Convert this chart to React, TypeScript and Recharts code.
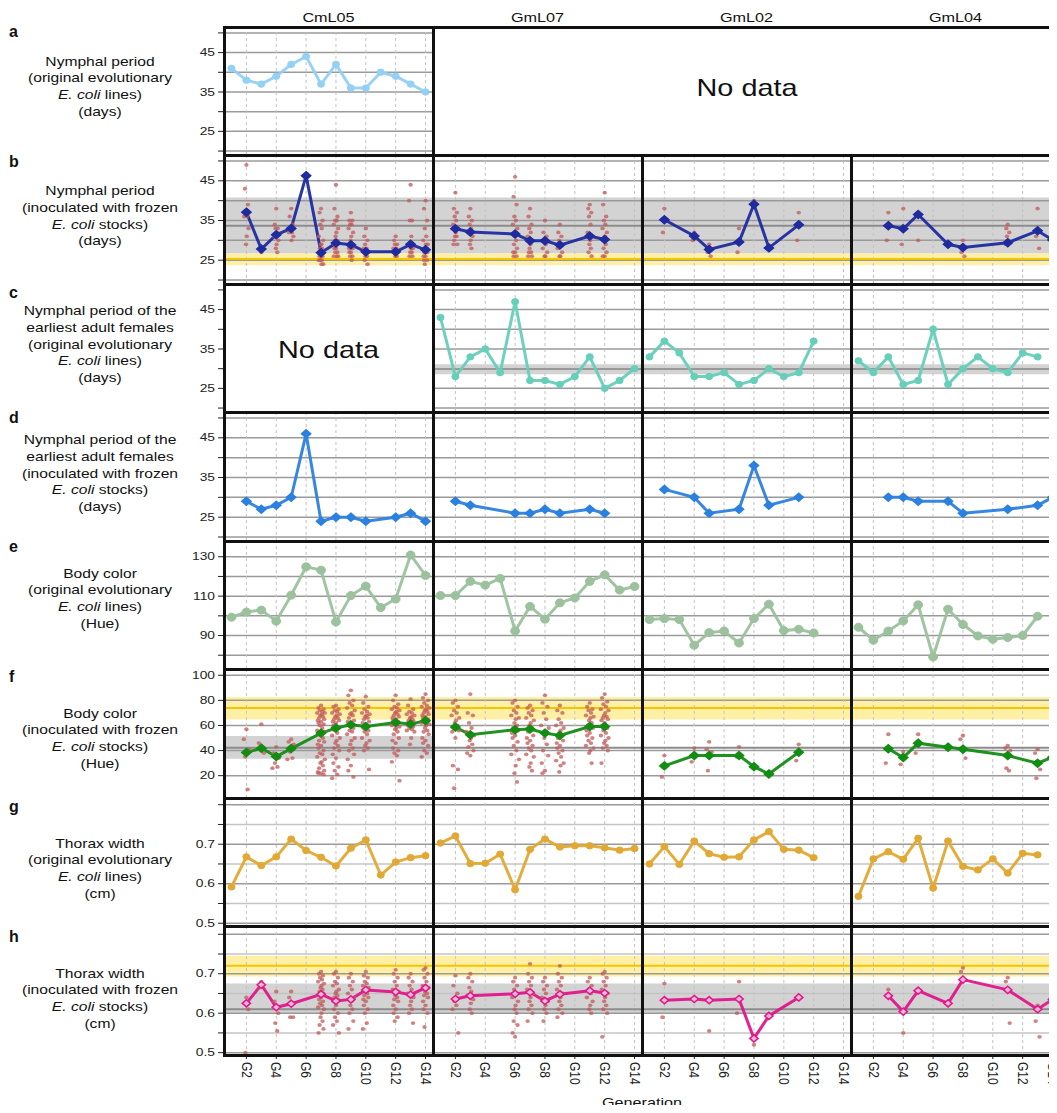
import React from 'react';
import { ComposedChart, Line, Scatter, XAxis, YAxis, ReferenceLine, ReferenceArea } from 'recharts';

const FONT = '"Liberation Sans", Arial, Helvetica, sans-serif';
const SX = 1.2;

// ---------- categories / labels ----------
const LINE_NAMES = ['CmL05', 'GmL07', 'GmL02', 'GmL04'];
const ROW_LETTERS = ['a', 'b', 'c', 'd', 'e', 'f', 'g', 'h'];
const GEN_TICKS = [2, 4, 6, 8, 10, 12, 14];
const ROW_TEXT = [
  ['Nymphal period', '(original evolutionary', '*E. coli* lines)', '(days)'],
  ['Nymphal period', '(inoculated with frozen', '*E. coli* stocks)', '(days)'],
  ['Nymphal period of the', 'earliest adult females', '(original evolutionary', '*E. coli* lines)', '(days)'],
  ['Nymphal period of the', 'earliest adult females', '(inoculated with frozen', '*E. coli* stocks)', '(days)'],
  ['Body color', '(original evolutionary', '*E. coli* lines)', '(Hue)'],
  ['Body color', '(inoculated with frozen', '*E. coli* stocks)', '(Hue)'],
  ['Thorax width', '(original evolutionary', '*E. coli* lines)', '(cm)'],
  ['Thorax width', '(inoculated with frozen', '*E. coli* stocks)', '(cm)'],
];

// ---------- a: nymphal period, original lines ----------
const nymphOrigCmL05: [number, number][] = [[1, 41], [2, 38], [3, 37], [4, 39], [5, 42], [6, 44], [7, 37], [8, 42], [9, 36], [10, 36], [11, 40], [12, 39], [13, 37], [14, 35]];

// ---------- b: nymphal period, frozen stocks (means) ----------
const nymphFrozenCmL05: [number, number][] = [[2, 37.1], [3, 27.8], [4, 31.4], [5, 33.0], [6, 46.3], [7, 26.9], [8, 29.3], [9, 28.9], [10, 27.1], [12, 27.1], [13, 29.0], [14, 27.6]];
const nymphFrozenGmL07: [number, number][] = [[2, 32.9], [3, 32.1], [6, 31.6], [7, 29.9], [8, 29.9], [9, 28.8], [11, 31.1], [12, 30.2]];
const nymphFrozenGmL02: [number, number][] = [[2, 35.2], [4, 31.1], [5, 27.7], [7, 29.6], [8, 39.1], [9, 28.1], [11, 33.9]];
const nymphFrozenGmL04: [number, number][] = [[3, 33.7], [4, 32.9], [5, 36.5], [7, 29.0], [8, 28.2], [11, 29.4], [13, 32.4], [14, 30.1]];
// individuals
const nymphFrozenCmL05Pts: [number, number[]][] = [
  [2, [49, 43, 39, 37, 36, 36, 33, 31, 29]],
  [3, [27, 28]],
  [4, [38, 34, 33, 33, 32, 31, 30, 29, 28, 27]],
  [5, [38, 36, 34, 33, 32, 32, 31, 30]],
  [6, [46]],
  [7, [38, 37, 35, 34, 33, 31, 30, 29, 29, 28, 28, 27, 27, 26, 26, 26, 25, 25, 25, 24, 24]],
  [8, [44, 38, 36, 35, 35, 34, 33, 32, 31, 30, 30, 29, 29, 28, 28, 27, 27, 26, 26, 26]],
  [9, [37, 35, 35, 34, 34, 33, 32, 31, 30, 29, 29, 28, 28, 27, 27, 26, 26, 25]],
  [10, [33, 31, 30, 29, 28, 28, 27, 27, 26, 26, 25, 24]],
  [12, [31, 30, 29, 29, 28, 28, 27, 27, 26, 26]],
  [13, [44, 40, 35, 35, 31, 29, 28, 28, 27, 27, 26, 26]],
  [14, [40, 38, 35, 33, 31, 30, 29, 29, 28, 28, 27, 27, 26, 26, 25, 25, 24]],
];
const nymphFrozenGmL07Pts: [number, number[]][] = [
  [2, [42, 38, 37, 36, 35, 34, 33, 32, 31, 31, 30, 29, 29]],
  [3, [38, 36, 35, 34, 33, 32, 31, 30, 29, 28]],
  [6, [46, 41, 39, 36, 35, 34, 33, 32, 31, 30, 29, 28, 27, 27, 26, 26]],
  [7, [38, 36, 34, 33, 32, 31, 30, 29, 28, 27, 27, 26, 26]],
  [8, [35, 32, 31, 30, 29, 28, 27, 26, 26]],
  [9, [34, 32, 31, 30, 29, 28, 27, 26, 26]],
  [11, [39, 38, 37, 36, 34, 32, 31, 30, 29, 28, 27, 26]],
  [12, [42, 39, 36, 35, 34, 33, 32, 31, 30, 29, 28, 27, 26, 26]],
];
const nymphFrozenGmL02Pts: [number, number[]][] = [
  [2, [38, 32]], [4, [32, 30]], [5, [29, 27, 26]], [7, [33, 27]], [8, [40]], [11, [37, 30]],
];
const nymphFrozenGmL04Pts: [number, number[]][] = [
  [3, [37, 30]], [4, [38, 29]], [5, [30]], [8, [30, 27, 26]], [11, [34, 33, 32, 31, 30, 29]], [13, [38, 31, 28]], [14, [35]],
];

// ---------- c: earliest females, original lines ----------
const earlyOrigGmL07: [number, number][] = [[1, 43], [2, 28], [3, 33], [4, 35], [5, 29], [6, 47], [7, 27], [8, 27], [9, 26], [10, 28], [11, 33], [12, 25], [13, 27], [14, 30]];
const earlyOrigGmL02: [number, number][] = [[1, 33], [2, 37], [3, 34], [4, 28], [5, 28], [6, 29], [7, 26], [8, 27], [9, 30], [10, 28], [11, 29], [12, 37]];
const earlyOrigGmL04: [number, number][] = [[1, 32], [2, 29], [3, 33], [4, 26], [5, 27], [6, 40], [7, 26], [8, 30], [9, 33], [10, 30], [11, 29], [12, 34], [13, 33]];

// ---------- d: earliest females, frozen stocks ----------
const earlyFrozenCmL05: [number, number][] = [[2, 29], [3, 27], [4, 28], [5, 30], [6, 46], [7, 24], [8, 25], [9, 25], [10, 24], [12, 25], [13, 26], [14, 24]];
const earlyFrozenGmL07: [number, number][] = [[2, 29], [3, 28], [6, 26], [7, 26], [8, 27], [9, 26], [11, 27], [12, 26]];
const earlyFrozenGmL02: [number, number][] = [[2, 32], [4, 30], [5, 26], [7, 27], [8, 38], [9, 28], [11, 30]];
const earlyFrozenGmL04: [number, number][] = [[3, 30], [4, 30], [5, 29], [7, 29], [8, 26], [11, 27], [13, 28], [14, 30]];

// ---------- e: body colour, original lines ----------
const hueOrigCmL05: [number, number][] = [[1, 99.3], [2, 101.9], [3, 102.9], [4, 97.3], [5, 110.5], [6, 124.9], [7, 123.2], [8, 96.9], [9, 110.3], [10, 115.1], [11, 104.2], [12, 108.5], [13, 130.9], [14, 120.5]];
const hueOrigGmL07: [number, number][] = [[1, 110.3], [2, 110.3], [3, 117.5], [4, 115.6], [5, 119], [6, 92.3], [7, 104.8], [8, 98.3], [9, 106.6], [10, 109.1], [11, 117.5], [12, 120.8], [13, 113.1], [14, 114.9]];
const hueOrigGmL02: [number, number][] = [[1, 98.1], [2, 98.6], [3, 98.1], [4, 85.1], [5, 91.5], [6, 92.3], [7, 86.2], [8, 98.6], [9, 105.9], [10, 92.5], [11, 93.2], [12, 91.3]];
const hueOrigGmL04: [number, number][] = [[1, 94.2], [2, 87.6], [3, 92.3], [4, 97.4], [5, 105.6], [6, 79.1], [7, 103.4], [8, 95.6], [9, 89.8], [10, 88.1], [11, 89], [12, 90], [13, 99.8]];

// ---------- f: body colour, frozen stocks ----------
const hueFrozenCmL05: [number, number][] = [[2, 38.4], [3, 41.9], [4, 35.2], [5, 41.6], [7, 53.9], [8, 57.9], [9, 60.6], [10, 59.2], [12, 62.4], [13, 61.1], [14, 63.8]];
const hueFrozenGmL07: [number, number][] = [[2, 58.7], [3, 52.6], [6, 56.6], [7, 57.1], [8, 53.9], [9, 52.0], [11, 59.2], [12, 59.2]];
const hueFrozenGmL02: [number, number][] = [[2, 27.8], [4, 36.0], [5, 36.0], [7, 36.0], [8, 27.2], [9, 21.4], [11, 38.7]];
const hueFrozenGmL04: [number, number][] = [[3, 41.4], [4, 34.4], [5, 45.9], [7, 42.7], [8, 41.1], [11, 36.0], [13, 29.9], [14, 34.7]];
const hueFrozenCmL05Pts: [number, number[]][] = [
  [2, [57, 49, 41, 35, 9]],
  [3, [61, 46, 38]],
  [4, [43, 38, 34, 30, 27, 26]],
  [5, [49, 47, 45, 39, 34, 33]],
  [7, [76, 74, 73, 72, 71, 70, 70, 69, 68, 67, 66, 65, 64, 63, 62, 61, 60, 58, 56, 55, 54, 52, 50, 48, 47, 45, 44, 42, 40, 38, 37, 35, 33, 31, 30, 28, 26, 24, 23, 22, 22, 21]],
  [8, [76, 75, 73, 72, 71, 70, 69, 68, 67, 66, 65, 64, 63, 62, 60, 58, 56, 54, 52, 50, 48, 46, 44, 42, 40, 37, 34, 30, 27, 24, 21, 18]],
  [9, [88, 84, 80, 78, 76, 74, 72, 70, 69, 68, 66, 64, 63, 62, 60, 58, 56, 55, 53, 50, 48, 45, 42, 40, 37, 33, 28, 24, 19]],
  [10, [83, 78, 75, 73, 71, 70, 69, 68, 67, 66, 65, 63, 62, 60, 58, 56, 55, 53, 50, 48, 46, 44, 42, 40, 25]],
  [12, [84, 80, 77, 75, 74, 73, 72, 71, 70, 69, 68, 67, 66, 65, 64, 63, 62, 61, 60, 59, 58, 57, 55, 53, 50, 48, 46, 42, 40, 38, 36, 31, 16]],
  [13, [81, 76, 73, 71, 70, 69, 68, 67, 66, 65, 64, 63, 62, 61, 60, 59, 58, 57, 56, 55, 50, 45]],
  [14, [85, 82, 80, 78, 76, 75, 74, 73, 72, 71, 70, 69, 68, 67, 66, 65, 64, 63, 62, 61, 60, 58, 56, 55, 53, 50, 48, 46, 44, 40, 38, 35]],
];
const hueFrozenGmL07Pts: [number, number[]][] = [
  [2, [80, 78, 75, 72, 70, 68, 66, 64, 62, 60, 58, 56, 55, 50, 28, 25, 10]],
  [3, [85, 70, 68, 62, 58, 55, 52, 50, 48, 45, 43, 40, 38, 36]],
  [6, [80, 78, 75, 72, 70, 68, 66, 65, 62, 60, 58, 56, 54, 52, 50, 47, 44, 40, 37, 33, 28, 22, 15]],
  [7, [76, 74, 72, 70, 68, 66, 64, 62, 60, 58, 55, 52, 50, 48, 46, 44, 42, 40, 37, 35, 30, 27, 24]],
  [8, [84, 78, 75, 70, 65, 60, 58, 55, 50, 45, 40, 36, 30, 24, 22]],
  [9, [76, 72, 70, 65, 62, 60, 58, 56, 54, 52, 50, 48, 46, 44, 42, 40, 38, 35, 32, 30, 28, 23]],
  [11, [78, 75, 73, 72, 70, 68, 67, 66, 64, 62, 60, 58, 56, 54, 52, 50, 48, 46, 44, 42, 40, 38, 30]],
  [12, [85, 82, 79, 77, 75, 73, 72, 70, 68, 67, 66, 65, 64, 62, 60, 58, 56, 54, 52, 50, 48, 46, 44, 42, 40, 30]],
];
const hueFrozenGmL02Pts: [number, number[]][] = [
  [2, [36, 19]], [4, [42, 31]], [5, [47, 41, 39, 24]], [7, [43, 35]], [11, [45, 32]],
];
const hueFrozenGmL04Pts: [number, number[]][] = [
  [3, [53, 30]], [4, [39, 29]], [5, [53, 38]], [8, [52, 49, 34]], [11, [44, 42, 40, 26, 24]], [13, [41, 38, 25, 18]], [14, [36]],
];

// ---------- g: thorax width, original lines ----------
const thoraxOrigCmL05: [number, number][] = [[1, 0.592], [2, 0.668], [3, 0.646], [4, 0.668], [5, 0.713], [6, 0.684], [7, 0.667], [8, 0.645], [9, 0.690], [10, 0.711], [11, 0.622], [12, 0.655], [13, 0.666], [14, 0.671]];
const thoraxOrigGmL07: [number, number][] = [[1, 0.703], [2, 0.721], [3, 0.651], [4, 0.652], [5, 0.675], [6, 0.585], [7, 0.687], [8, 0.713], [9, 0.693], [10, 0.696], [11, 0.696], [12, 0.691], [13, 0.685], [14, 0.689]];
const thoraxOrigGmL02: [number, number][] = [[1, 0.650], [2, 0.694], [3, 0.649], [4, 0.708], [5, 0.676], [6, 0.667], [7, 0.668], [8, 0.711], [9, 0.732], [10, 0.687], [11, 0.685], [12, 0.666]];
const thoraxOrigGmL04: [number, number][] = [[1, 0.568], [2, 0.663], [3, 0.681], [4, 0.662], [5, 0.715], [6, 0.589], [7, 0.708], [8, 0.644], [9, 0.635], [10, 0.663], [11, 0.627], [12, 0.677], [13, 0.673]];

// ---------- h: thorax width, frozen stocks ----------
const thoraxFrozenCmL05: [number, number][] = [[2, 0.625], [3, 0.672], [4, 0.615], [5, 0.624], [7, 0.648], [8, 0.631], [9, 0.635], [10, 0.659], [12, 0.654], [13, 0.647], [14, 0.664]];
const thoraxFrozenGmL07: [number, number][] = [[2, 0.636], [3, 0.644], [6, 0.649], [7, 0.653], [8, 0.631], [9, 0.648], [11, 0.657], [12, 0.651]];
const thoraxFrozenGmL02: [number, number][] = [[2, 0.633], [4, 0.636], [5, 0.633], [7, 0.636], [8, 0.536], [9, 0.593], [11, 0.640]];
const thoraxFrozenGmL04: [number, number][] = [[3, 0.644], [4, 0.604], [5, 0.657], [7, 0.625], [8, 0.685], [11, 0.659], [13, 0.610], [14, 0.635]];
const thoraxFrozenCmL05Pts: [number, number[]][] = [
  [2, [0.64, 0.625, 0.61, 0.5]],
  [3, [0.68, 0.665]],
  [4, [0.655, 0.63, 0.6, 0.575, 0.555]],
  [5, [0.655, 0.64, 0.59, 0.59]],
  [7, [0.705, 0.7, 0.695, 0.69, 0.685, 0.68, 0.675, 0.67, 0.665, 0.66, 0.655, 0.65, 0.645, 0.64, 0.635, 0.63, 0.625, 0.62, 0.615, 0.61, 0.6, 0.59, 0.58, 0.57, 0.56, 0.55]],
  [8, [0.705, 0.7, 0.69, 0.68, 0.675, 0.67, 0.66, 0.655, 0.65, 0.645, 0.64, 0.635, 0.63, 0.62, 0.61, 0.6, 0.59, 0.58, 0.57, 0.55, 0.49]],
  [9, [0.7, 0.69, 0.68, 0.67, 0.66, 0.65, 0.64, 0.63, 0.62, 0.61, 0.6, 0.58, 0.56]],
  [10, [0.705, 0.695, 0.69, 0.68, 0.675, 0.67, 0.665, 0.66, 0.655, 0.65, 0.645, 0.64, 0.635, 0.63, 0.62, 0.61, 0.6, 0.575, 0.56]],
  [12, [0.71, 0.7, 0.69, 0.68, 0.67, 0.66, 0.655, 0.65, 0.645, 0.64, 0.635, 0.63, 0.62, 0.61, 0.6, 0.59, 0.58]],
  [13, [0.7, 0.69, 0.68, 0.67, 0.66, 0.65, 0.64, 0.63, 0.62, 0.61, 0.6, 0.575]],
  [14, [0.715, 0.71, 0.7, 0.69, 0.68, 0.67, 0.665, 0.66, 0.655, 0.65, 0.645, 0.64, 0.63, 0.62, 0.61, 0.6, 0.565]],
];
const thoraxFrozenGmL07Pts: [number, number[]][] = [
  [2, [0.695, 0.67, 0.65, 0.63, 0.62, 0.61, 0.55]],
  [3, [0.7, 0.69, 0.68, 0.665, 0.655, 0.645, 0.635, 0.625, 0.61, 0.6]],
  [6, [0.69, 0.68, 0.67, 0.66, 0.65, 0.64, 0.63, 0.62, 0.61, 0.6, 0.58, 0.57, 0.55, 0.54]],
  [7, [0.725, 0.7, 0.69, 0.68, 0.67, 0.66, 0.65, 0.64, 0.63, 0.62, 0.61, 0.6, 0.58]],
  [8, [0.69, 0.68, 0.67, 0.66, 0.65, 0.64, 0.63, 0.62, 0.61, 0.6, 0.58]],
  [9, [0.72, 0.7, 0.69, 0.68, 0.67, 0.66, 0.65, 0.64, 0.63, 0.62, 0.61, 0.6, 0.59]],
  [11, [0.69, 0.68, 0.67, 0.66, 0.65, 0.64, 0.63, 0.62, 0.61, 0.6]],
  [12, [0.705, 0.7, 0.69, 0.68, 0.67, 0.66, 0.65, 0.64, 0.63, 0.62, 0.61, 0.6, 0.54]],
];
const thoraxFrozenGmL02Pts: [number, number[]][] = [
  [2, [0.675, 0.59]], [5, [0.555]], [7, [0.68, 0.6]], [8, [0.52]],
];
const thoraxFrozenGmL04Pts: [number, number[]][] = [
  [3, [0.66]], [4, [0.55]], [8, [0.715, 0.705]], [11, [0.69, 0.68, 0.575]], [13, [0.62, 0.58, 0.54]], [14, [0.66]],
];

// ---------- reference bands ----------
type Band = { y1: number; y2: number; mid: number; fill: string; line: string; areaCols: number[] };
const ALL_COLS = [0, 1, 2, 3];
const nymphBands: Band[] = [
  { y1: 26.7, y2: 40.8, mid: 33.7, fill: '#d3d3d3', line: '#8c8c8c', areaCols: ALL_COLS },
  { y1: 23.7, y2: 26.7, mid: 25.3, fill: '#fff0a6', line: '#f5c400', areaCols: ALL_COLS },
];
const earlyBands: Band[] = [{ y1: 28.6, y2: 31.1, mid: 29.9, fill: '#d3d3d3', line: '#999999', areaCols: ALL_COLS }];
const hueBands: Band[] = [
  { y1: 33.5, y2: 51.6, mid: 42.3, fill: '#d3d3d3', line: '#8c8c8c', areaCols: [0] },
  { y1: 64.8, y2: 82.6, mid: 74.0, fill: '#fff0a6', line: '#f5c400', areaCols: ALL_COLS },
];
const thoraxBands: Band[] = [
  { y1: 0.600, y2: 0.675, mid: 0.610, fill: '#d3d3d3', line: '#8c8c8c', areaCols: ALL_COLS },
  { y1: 0.693, y2: 0.7455, mid: 0.720, fill: '#fff0a6', line: '#f5c400', areaCols: ALL_COLS },
];

// ---------- layout ----------
const COL_X = [224, 433, 642, 851];
const COL_W = 209;
const ROW_Y = [27, 155, 284, 412, 541, 669, 798, 926, 1055];
const YW = 46;
const XH = 52;
const PAD = 8;
const JITTER = [0, -1, 1, -0.5, 0.5, -1.5, 1.5, 0.25, -0.25, 0.75, -0.75, 1.25, -1.25];

type RowDef = {
  domain: [number, number];
  grid: number[];
  labels: number[];
  light: number[];
  color: string;
  marker: 'circle' | 'diamond';
  r: number;
  markerFill: string;
  width: number;
  series: ([number, number][] | null)[];
  pts?: [number, number[]][][];
  jitter: number;
  bands: Band[];
};

const NYMPH_GRID = [20, 25, 30, 35, 40, 45, 50];
const NYMPH_LABELS = [25, 35, 45];
const THORAX_GRID = [0.5, 0.55, 0.6, 0.65, 0.7, 0.75, 0.8];
const THORAX_LABELS = [0.5, 0.6, 0.7];

const ROWS: RowDef[] = [
  { domain: [19, 51.5], grid: NYMPH_GRID, labels: NYMPH_LABELS, light: [], color: '#92d0f6', marker: 'circle', r: 3.2, markerFill: '#92d0f6', width: 3, series: [nymphOrigCmL05, null, null, null], jitter: 0, bands: [] },
  { domain: [19, 51.5], grid: NYMPH_GRID, labels: NYMPH_LABELS, light: [], color: '#1f2b9e', marker: 'diamond', r: 4, markerFill: '#1f2b9e', width: 3, series: [nymphFrozenCmL05, nymphFrozenGmL07, nymphFrozenGmL02, nymphFrozenGmL04], pts: [nymphFrozenCmL05Pts, nymphFrozenGmL07Pts, nymphFrozenGmL02Pts, nymphFrozenGmL04Pts], jitter: 0.1, bands: nymphBands },
  { domain: [19, 51.5], grid: NYMPH_GRID, labels: NYMPH_LABELS, light: [], color: '#66cfba', marker: 'circle', r: 3.2, markerFill: '#66cfba', width: 3, series: [null, earlyOrigGmL07, earlyOrigGmL02, earlyOrigGmL04], jitter: 0, bands: earlyBands },
  { domain: [19, 51.5], grid: NYMPH_GRID, labels: NYMPH_LABELS, light: [], color: '#2b80e0', marker: 'diamond', r: 4, markerFill: '#2b80e0', width: 3, series: [earlyFrozenCmL05, earlyFrozenGmL07, earlyFrozenGmL02, earlyFrozenGmL04], jitter: 0, bands: [] },
  { domain: [73, 138], grid: [80, 90, 100, 110, 120, 130], labels: [90, 110, 130], light: [], color: '#9cc19d', marker: 'circle', r: 4, markerFill: '#9cc19d', width: 3, series: [hueOrigCmL05, hueOrigGmL07, hueOrigGmL02, hueOrigGmL04], jitter: 0, bands: [] },
  { domain: [2.2, 105], grid: [20, 40, 60, 80, 100], labels: [20, 40, 60, 80, 100], light: [], color: '#138c13', marker: 'diamond', r: 4, markerFill: '#138c13', width: 3, series: [hueFrozenCmL05, hueFrozenGmL07, hueFrozenGmL02, hueFrozenGmL04], pts: [hueFrozenCmL05Pts, hueFrozenGmL07Pts, hueFrozenGmL02Pts, hueFrozenGmL04Pts], jitter: 0.17, bands: hueBands },
  { domain: [0.493, 0.817], grid: THORAX_GRID, labels: THORAX_LABELS, light: [0.55, 0.65, 0.75], color: '#e1a934', marker: 'circle', r: 3.2, markerFill: '#e1a934', width: 3, series: [thoraxOrigCmL05, thoraxOrigGmL07, thoraxOrigGmL02, thoraxOrigGmL04], jitter: 0, bands: [] },
  { domain: [0.494, 0.821], grid: THORAX_GRID, labels: THORAX_LABELS, light: [0.55, 0.65, 0.75], color: '#e0168a', marker: 'diamond', r: 3.6, markerFill: '#f8b6d8', width: 3, series: [thoraxFrozenCmL05, thoraxFrozenGmL07, thoraxFrozenGmL02, thoraxFrozenGmL04], pts: [thoraxFrozenCmL05Pts, thoraxFrozenGmL07Pts, thoraxFrozenGmL02Pts, thoraxFrozenGmL04Pts], jitter: 0.13, bands: thoraxBands },
];

const TEXT_FIRST_Y = [62, 191.7, 311.7, 440.7, 574, 714, 844, 974];
const LETTER_Y = [32, 162, 293, 418, 547, 677, 807, 937];

function toPts(pairs: [number, number][]) {
  return pairs.map(([g, v]) => ({ g, v }));
}
function toScatter(groups: [number, number[]][], scale: number) {
  const out: { g: number; v: number }[] = [];
  groups.forEach(([g, vals]) => vals.forEach((v, i) => out.push({ g: g + JITTER[i % JITTER.length] * scale, v })));
  return out;
}

function makeDot(def: RowDef) {
  return (p: any) => {
    const { cx, cy, index } = p;
    if (cx == null || cy == null) return <g key={`e${index}`} />;
    const r = def.r;
    if (def.marker === 'circle') {
      return <ellipse key={`c${index}`} cx={cx} cy={cy} rx={r * 1.1} ry={r} fill={def.markerFill} stroke={def.color} strokeWidth={1} />;
    }
    const rx = r * 1.15;
    return (
      <path key={`d${index}`} d={`M${cx},${cy - r} L${cx + rx},${cy} L${cx},${cy + r} L${cx - rx},${cy} Z`} fill={def.markerFill} stroke={def.color} strokeWidth={1.5} />
    );
  };
}

const fmtNum = (v: number) => String(v);

const yTick = (def: RowDef) => (p: any) => {
  const { x, y, payload } = p;
  const show = def.labels.some((l) => Math.abs(l - payload.value) < 1e-9);
  if (!show) return <g />;
  return (
    <text transform={`translate(${x},${y}) scale(${SX},1)`} textAnchor="end" dominantBaseline="central" fontSize={11.5} fill="#222" fontFamily={FONT}>
      {fmtNum(payload.value)}
    </text>
  );
};

const xTick = (p: any) => {
  const { x, y, payload } = p;
  return (
    <text transform={`translate(${x},${y}) scale(${SX},1) rotate(90)`} textAnchor="start" dominantBaseline="central" fontSize={12} fill="#222" fontFamily={FONT}>
      {`G${payload.value}`}
    </text>
  );
};

function Panel({ row, col }: { row: number; col: number }) {
  const def = ROWS[row];
  const series = def.series[col];
  const showY = col === 0;
  const showX = row === 7;
  if (!series && !showY) return null;
  const top = ROW_Y[row];
  const h = ROW_Y[row + 1] - ROW_Y[row];
  const w = COL_W + (showY ? YW : 0);
  const height = h + 2 * PAD + (showX ? XH : 0);
  const pts = def.pts ? def.pts[col] : undefined;
  return (
    <div style={{ position: 'absolute', left: COL_X[col] - (showY ? YW : 0), top: top - PAD }}>
      <ComposedChart width={w} height={height} margin={{ top: PAD, right: 0, bottom: PAD, left: 0 }}>
        <XAxis
          type="number"
          dataKey="g"
          domain={[0.5, 14.5]}
          allowDataOverflow
          ticks={GEN_TICKS}
          interval={0}
          hide={!showX}
          height={showX ? XH : 0}
          axisLine={false}
          tickLine={{ stroke: '#222' }}
          tickSize={4}
          tickMargin={3}
          tick={xTick}
        />
        <YAxis
          type="number"
          dataKey="v"
          domain={def.domain}
          allowDataOverflow
          ticks={def.grid}
          interval={0}
          hide={!showY}
          width={showY ? YW : 0}
          axisLine={false}
          tickLine={{ stroke: '#222' }}
          tickSize={6}
          tickMargin={3}
          tick={yTick(def)}
        />
        {series && def.bands.filter((b) => b.areaCols.includes(col)).map((b, i) => (
          <ReferenceArea key={`ba${i}`} y1={b.y1} y2={b.y2} fill={b.fill} fillOpacity={1} stroke="none" />
        ))}
        {series && def.grid.map((g) => (
          <ReferenceLine key={`gy${g}`} y={g} stroke={def.light.includes(g) ? '#c4c4c4' : '#9a9a9a'} strokeWidth={1.5} />
        ))}
        {series && GEN_TICKS.map((g) => (
          <ReferenceLine key={`gx${g}`} x={g} stroke="#c2c2c2" strokeWidth={1} strokeDasharray="3 3" />
        ))}
        {series && def.bands.map((b, i) => (
          <ReferenceLine key={`bl${i}`} y={b.mid} stroke={b.line} strokeWidth={2} />
        ))}
        {series && pts && (
          <Scatter
            data={toScatter(pts, def.jitter)}
            dataKey="v"
            isAnimationActive={false}
            shape={(p: any) => <ellipse cx={p.cx} cy={p.cy} rx={2.2} ry={1.9} fill="#c25a5a" fillOpacity={0.75} />}
          />
        )}
        {series && (
          <Line
            data={toPts(series)}
            dataKey="v"
            type="linear"
            stroke={def.color}
            strokeWidth={def.width}
            strokeOpacity={0.95}
            dot={makeDot(def)}
            activeDot={false}
            isAnimationActive={false}
          />
        )}
      </ComposedChart>
    </div>
  );
}

function RowText({ row }: { row: number }) {
  const lines = ROW_TEXT[row];
  return (
    <div
      style={{
        position: 'absolute', left: 0, width: 200, top: TEXT_FIRST_Y[row] - 8.5, textAlign: 'center',
        fontSize: 13, lineHeight: '16.7px', color: '#111', transform: `scaleX(${SX})`, transformOrigin: '100px 0',
      }}
    >
      {lines.map((ln, i) => {
        const parts = ln.split('*');
        return (
          <div key={i}>
            {parts.map((pt, j) => (j % 2 === 1 ? <i key={j}>{pt}</i> : <span key={j}>{pt}</span>))}
          </div>
        );
      })}
    </div>
  );
}

export default function App() {
  const panels: React.ReactNode[] = [];
  for (let r = 0; r < 8; r++) for (let c = 0; c < 4; c++) panels.push(<Panel key={`p${r}-${c}`} row={r} col={c} />);

  const borders: React.ReactNode[] = [];
  ROW_Y.forEach((y, i) => {
    borders.push(<div key={`hb${i}`} style={{ position: 'absolute', left: COL_X[0] - 1.5, top: y - 1.5, width: 1060 - COL_X[0] + 3, height: 3, background: '#111' }} />);
  });
  COL_X.forEach((x, i) => {
    const y0 = i >= 2 ? ROW_Y[1] : ROW_Y[0];
    borders.push(<div key={`vb${i}`} style={{ position: 'absolute', left: x - 1.5, top: y0 - 1.5, width: 3, height: ROW_Y[8] - y0 + 3, background: '#111' }} />);
  });

  return (
    <div style={{ position: 'relative', width: 1057, height: 1113, margin: -8, overflow: 'hidden', background: '#fff', fontFamily: FONT }}>
      {panels}
      {borders}
      {LINE_NAMES.map((n, i) => (
        <div key={n} style={{ position: 'absolute', left: COL_X[i], width: COL_W, top: 9, textAlign: 'center', fontSize: 13.5, lineHeight: '18px', color: '#111', transform: `scaleX(${SX})` }}>{n}</div>
      ))}
      {ROW_LETTERS.map((l, i) => (
        <div key={l} style={{ position: 'absolute', left: 9, top: LETTER_Y[i] - 10, fontSize: 16, lineHeight: '20px', fontWeight: 'bold', color: '#111' }}>{l}</div>
      ))}
      {ROW_TEXT.map((_, i) => <RowText key={`t${i}`} row={i} />)}
      <div style={{ position: 'absolute', left: 642, width: 210, top: 73, textAlign: 'center', fontSize: 24, lineHeight: '30px', color: '#111', transform: `scaleX(${SX})` }}>No data</div>
      <div style={{ position: 'absolute', left: COL_X[0], width: COL_W, top: 335, textAlign: 'center', fontSize: 24, lineHeight: '30px', color: '#111', transform: `scaleX(${SX})` }}>No data</div>
      <div style={{ position: 'absolute', left: 542, width: 200, top: 1093, textAlign: 'center', fontSize: 13.5, lineHeight: '20px', color: '#111', transform: `scaleX(${SX})` }}>Generation</div>
    </div>
  );
}
